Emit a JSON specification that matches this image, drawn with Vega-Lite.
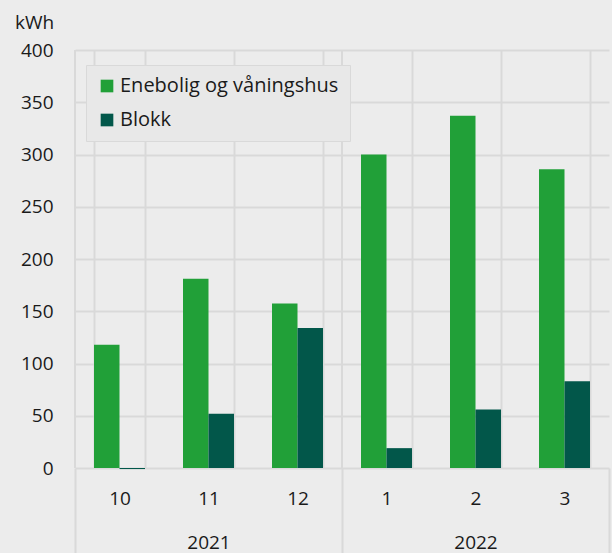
{
  "$schema": "https://vega.github.io/schema/vega-lite/v6.json",
  "width": 534,
  "height": 418,
  "autosize": {"type": "none"},
  "padding": {"left": 75, "top": 50, "right": 3, "bottom": 85},
  "background": "#ececec",
  "config": {
    "view": {"stroke": null},
    "font": "Open Sans",
    "axis": {"labelFont": "Open Sans", "titleFont": "Open Sans", "labelColor": "#1a1a1a", "titleColor": "#1a1a1a"},
    "legend": {"labelFont": "Open Sans"}
  },
  "data": {
    "values": [
      {"year": "2021", "month": "10", "series": "Enebolig og våningshus", "value": 118},
      {"year": "2021", "month": "10", "series": "Blokk", "value": -1},
      {"year": "2021", "month": "11", "series": "Enebolig og våningshus", "value": 181},
      {"year": "2021", "month": "11", "series": "Blokk", "value": 52},
      {"year": "2021", "month": "12", "series": "Enebolig og våningshus", "value": 157.5},
      {"year": "2021", "month": "12", "series": "Blokk", "value": 134},
      {"year": "2022", "month": "1", "series": "Enebolig og våningshus", "value": 300},
      {"year": "2022", "month": "1", "series": "Blokk", "value": 19},
      {"year": "2022", "month": "2", "series": "Enebolig og våningshus", "value": 337},
      {"year": "2022", "month": "2", "series": "Blokk", "value": 56},
      {"year": "2022", "month": "3", "series": "Enebolig og våningshus", "value": 286},
      {"year": "2022", "month": "3", "series": "Blokk", "value": 83}
    ]
  },
  "layer": [
    {
      "mark": {"type": "bar"},
      "encoding": {
        "x": {
          "field": "month", "type": "nominal",
          "sort": ["10", "11", "12", "1", "2", "3"],
          "scale": {"paddingInner": 0.427, "paddingOuter": 0.2135},
          "axis": {
            "title": null, "tickBand": "extent", "ticks": false, "domain": false,
            "grid": true, "gridColor": "#d9d9d9", "gridWidth": 2,
            "labelAngle": 0, "labelFontSize": 19, "labelPadding": 21
          }
        },
        "xOffset": {
          "field": "series", "type": "nominal",
          "sort": ["Enebolig og våningshus", "Blokk"],
          "scale": {"paddingInner": 0, "paddingOuter": 0}
        },
        "y": {
          "field": "value", "type": "quantitative",
          "scale": {"domain": [0, 400], "nice": false},
          "axis": {
            "values": [0, 50, 100, 150, 200, 250, 300, 350, 400],
            "title": "kWh", "titleAngle": 0, "titleX": -41, "titleY": -22,
            "titleAlign": "center", "titleBaseline": "alphabetic",
            "titleFontSize": 19, "titleFontWeight": "normal",
            "ticks": false, "domain": false, "labelPadding": 22,
            "labelFontSize": 19, "gridColor": "#d9d9d9", "gridWidth": 2
          }
        },
        "color": {
          "field": "series", "type": "nominal",
          "scale": {"domain": ["Enebolig og våningshus", "Blokk"], "range": ["#21a038", "#02574a"]},
          "legend": {
            "title": null, "orient": "none", "legendX": 11, "legendY": 15,
            "direction": "vertical", "fillColor": "#e8e8e8", "strokeColor": "#d9d9d9",
            "padding": 11, "symbolOffset": 0, "symbolType": "square", "symbolSize": 160,
            "symbolStrokeWidth": 0, "labelFontSize": 20, "labelOffset": 3, "labelLimit": 400,
            "rowPadding": 14, "labelColor": "#1a1a1a"
          }
        }
      }
    },
    {
      "mark": {"type": "rule", "color": "#d9d9d9", "strokeWidth": 2},
      "encoding": {
        "x": {
          "field": "year", "type": "nominal", "bandPosition": 0,
          "scale": {"paddingInner": 0, "paddingOuter": 0},
          "axis": {
            "orient": "bottom", "title": null, "tickBand": "extent", "ticks": true,
            "tickSize": 85, "tickColor": "#d9d9d9", "tickWidth": 2, "domain": false,
            "grid": false, "labelAngle": 0, "labelPadding": -20, "labelFontSize": 19
          }
        }
      }
    }
  ],
  "resolve": {"scale": {"x": "independent"}}
}
